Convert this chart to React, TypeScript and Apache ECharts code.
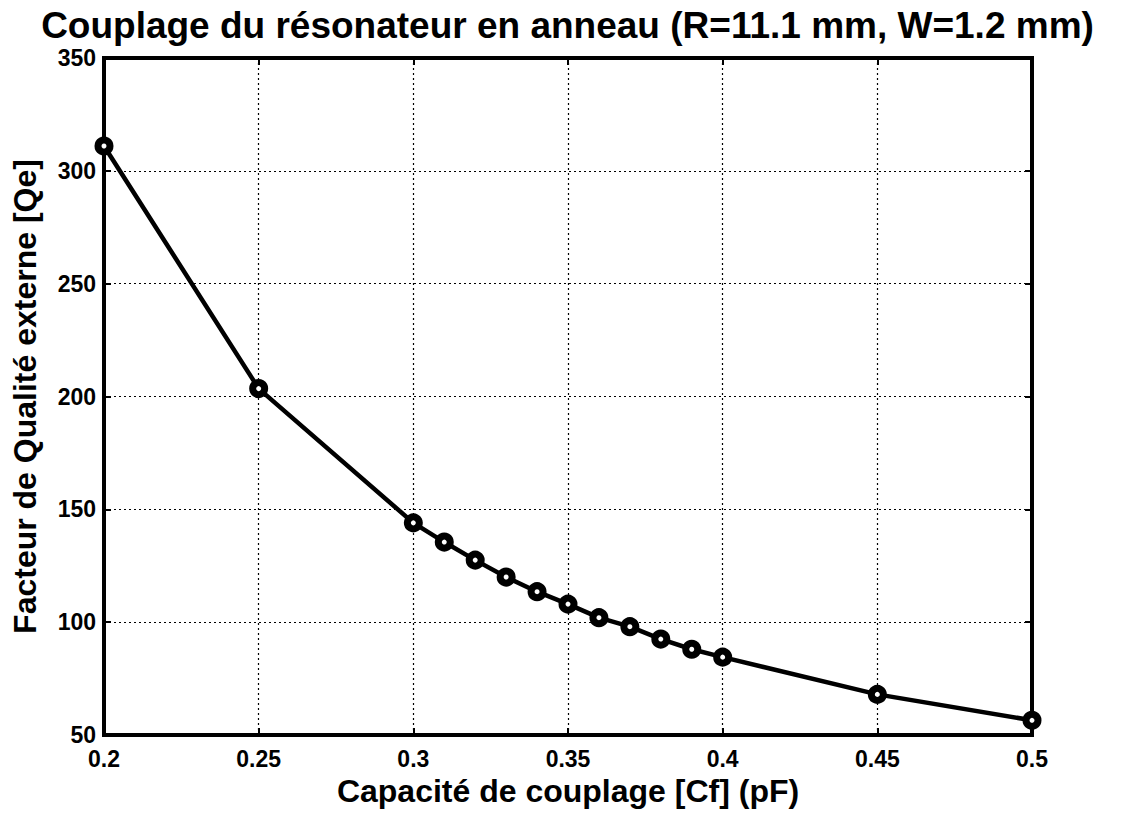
import React, { useEffect, useRef } from "react";
import * as echarts from "echarts";

const capacitance = [0.2, 0.25, 0.3, 0.31, 0.32, 0.33, 0.34, 0.35, 0.36, 0.37, 0.38, 0.39, 0.4, 0.45, 0.5];
const qualityFactor = [311, 203.5, 144, 135.5, 127.5, 120, 113.5, 108, 102, 98, 92.5, 88, 84.5, 68, 56.5];
const titleText = "Couplage du résonateur en anneau (R=11.1 mm, W=1.2 mm)";
const xName = "Capacité de couplage [Cf] (pF)";
const yName = "Facteur de Qualité externe [Qe]";

export default function App() {
  const ref = useRef<HTMLDivElement>(null);
  useEffect(() => {
    if (!ref.current) return;
    const chart = echarts.init(ref.current, null, { renderer: "svg" });
    const font = "'Liberation Sans', Arial, Helvetica, sans-serif";
    const data = capacitance.map((c, i) => [c, qualityFactor[i]]);
    const tick = { show: true, inside: true, length: 7, lineStyle: { color: "#000", width: 2 } };
    chart.setOption({
      animation: false,
      backgroundColor: "#fff",
      textStyle: { fontFamily: font, color: "#000" },
      title: {
        text: titleText,
        left: "center",
        top: 2,
        textStyle: { fontFamily: font, fontSize: 37, fontWeight: "bold", color: "#000" },
      },
      grid: {
        left: 104,
        right: 103,
        top: 58,
        bottom: 80,
        show: true,
        borderColor: "#000",
        borderWidth: 4,
        backgroundColor: "#fff",
      },
      xAxis: [
        {
          type: "value",
          min: 0.2,
          max: 0.5,
          interval: 0.05,
          name: xName,
          nameLocation: "middle",
          nameGap: 36,
          nameTextStyle: { fontFamily: font, fontSize: 32, fontWeight: "bold", color: "#000" },
          axisLine: { show: false },
          axisTick: tick,
          axisLabel: {
            fontFamily: font,
            fontSize: 23,
            fontWeight: "bold",
            color: "#000",
            margin: 12,
            formatter: (v: number) => String(Math.round(v * 100) / 100),
          },
          splitLine: { show: true, lineStyle: { color: "#000", type: [2, 3], width: 1.2 } },
        },
        {
          type: "value",
          position: "top",
          min: 0.2,
          max: 0.5,
          interval: 0.05,
          axisLine: { show: false },
          axisTick: tick,
          axisLabel: { show: false },
          splitLine: { show: false },
        },
      ],
      yAxis: [
        {
          type: "value",
          min: 50,
          max: 350,
          interval: 50,
          name: yName,
          nameLocation: "middle",
          nameGap: 63,
          nameTextStyle: { fontFamily: font, fontSize: 32, fontWeight: "bold", color: "#000" },
          axisLine: { show: false },
          axisTick: tick,
          axisLabel: { fontFamily: font, fontSize: 23, fontWeight: "bold", color: "#000", margin: 8 },
          splitLine: { show: true, lineStyle: { color: "#000", type: [2, 3], width: 1.2 } },
        },
        {
          type: "value",
          position: "right",
          min: 50,
          max: 350,
          interval: 50,
          axisLine: { show: false },
          axisTick: tick,
          axisLabel: { show: false },
          splitLine: { show: false },
        },
      ],
      series: [
        {
          type: "line",
          data,
          xAxisIndex: 0,
          yAxisIndex: 0,
          symbol: "circle",
          symbolSize: 12,
          showSymbol: true,
          lineStyle: { color: "#000", width: 4.5 },
          itemStyle: { color: "#fff", borderColor: "#000", borderWidth: 7 },
          clip: false,
          z: 5,
        },
      ],
    });
    return () => chart.dispose();
  }, []);
  return (
    <div
      ref={ref}
      style={{ position: "absolute", left: 0, top: 0, width: 1135, height: 815 }}
    />
  );
}
